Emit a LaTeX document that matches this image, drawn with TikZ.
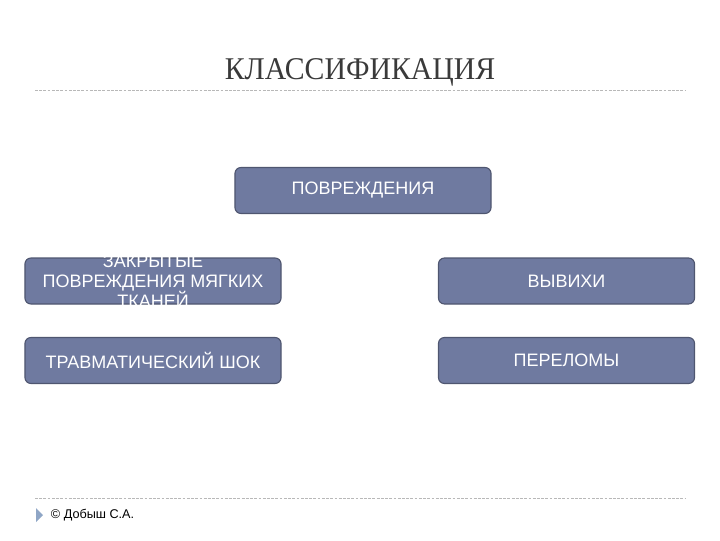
\documentclass[tikz,border=0pt]{standalone}
\usepackage{fontspec}
\setmainfont{Liberation Serif}
\setsansfont{Liberation Sans}
\definecolor{boxfill}{HTML}{6F7AA0}
\definecolor{boxline}{HTML}{4F5670}
\definecolor{rulegray}{HTML}{B8B8B8}
\definecolor{titlegray}{HTML}{3A3A3A}
\definecolor{markblue}{HTML}{8FA6C6}
\tikzset{
  catbox/.style={draw=boxline,fill=boxfill,thick,rounded corners=0.15cm,
    minimum width=6.4cm,minimum height=1.15cm,inner sep=0pt},
  cattext/.style={text=white,font=\sffamily\fontsize{12.8}{14.2}\selectfont,
    align=center},
  sliderule/.style={rulegray,dash pattern=on 2pt off 1pt,line width=0.5pt}
}
\begin{document}
\begin{tikzpicture}[x=0.025cm,y=-0.025cm]
\useasboundingbox (0,0) rectangle (720,540);

%title
\node[draw=none,text=titlegray,anchor=base,xscale=0.94,font=\fontsize{22.5}{26}\selectfont] (title) at (360,79) {КЛАССИФИКАЦИЯ};
\coordinate (topl) at (35,90);
\coordinate (topr) at (685,90);
\draw[sliderule] (topl) -- (topr);

%boxes
\node[catbox,cattext] (injury) at (363,190.5) {ПОВРЕЖДЕНИЯ};
\node[catbox] (closed) at (153,281) {};
\node[cattext,draw=none] (closedtext) at (closed) {ЗАКРЫТЫЕ\\ПОВРЕЖДЕНИЯ МЯГКИХ\\ТКАНЕЙ};
\node[catbox,cattext] (disloc) at (566.5,281) {ВЫВИХИ};
\node[catbox,cattext] (shock) at (153,360.5) {ТРАВМАТИЧЕСКИЙ ШОК};
\node[catbox,cattext] (fract) at (566.5,360.5) {ПЕРЕЛОМЫ};

%footer
\coordinate (botl) at (35,498);
\coordinate (botr) at (685,498);
\draw[sliderule] (botl) -- (botr);
\fill[markblue] (36,508) -- (43,515) -- (36,522) -- cycle;
\node[draw=none,anchor=west,font=\sffamily\fontsize{9}{11}\selectfont] (author) at (46,515) {© Добыш С.А.};
\end{tikzpicture}
\end{document}
